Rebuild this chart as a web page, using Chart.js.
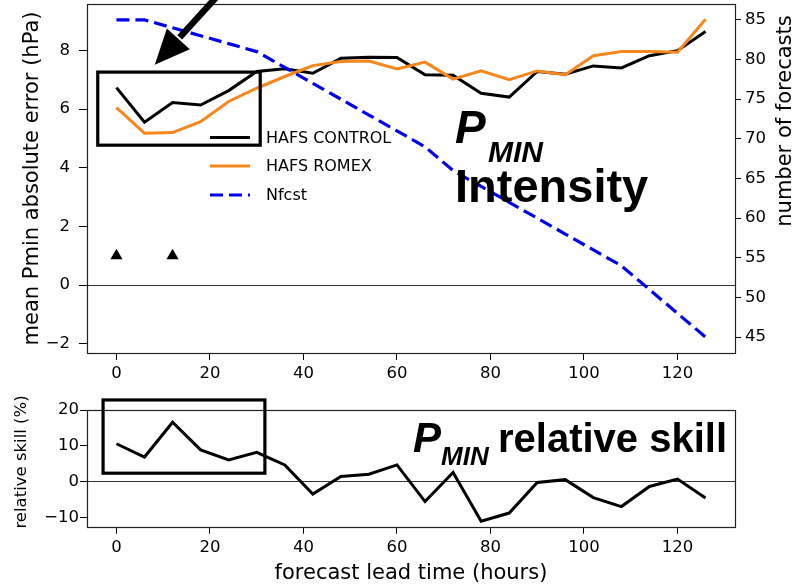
<!DOCTYPE html>
<html>
<head>
<meta charset="utf-8">
<script src="https://cdn.jsdelivr.net/npm/chart.js@4.4.1/dist/chart.umd.min.js"></script>
<style>
  html, body { margin: 0; padding: 0; background: #fff; }
  #wrap { position: relative; width: 796px; height: 587px; overflow: hidden; background: #fff; }
  canvas { position: absolute; left: 0; }
  #topPanel { top: 0; }
  #skillPanel { top: 385px; }
</style>
</head>
<body>
<div id="wrap">
  <canvas id="topPanel" width="796" height="385"></canvas>
  <canvas id="skillPanel" width="796" height="202"></canvas>
</div>
<script>
// Forecast lead times (hours)
const leadHours = [0, 6, 12, 18, 24, 30, 36, 42, 48, 54, 60, 66, 72, 78, 84, 90, 96, 102, 108, 114, 120, 126];

// Mean Pmin absolute error (hPa)
const hafsControl = [6.73, 5.55, 6.22, 6.14, 6.63, 7.28, 7.37, 7.22, 7.73, 7.77, 7.76, 7.17, 7.15, 6.54, 6.41, 7.28, 7.19, 7.47, 7.40, 7.82, 7.99, 8.64];
const hafsRomex   = [6.05, 5.18, 5.20, 5.57, 6.26, 6.71, 7.11, 7.48, 7.62, 7.64, 7.37, 7.60, 7.02, 7.30, 7.00, 7.30, 7.17, 7.82, 7.96, 7.96, 7.94, 9.06];

// Number of forecasts verified at each lead time
const nfcst = [85, 85, 84, 83, 82, 81, 79, 77, 75, 73, 71, 69, 66, 64, 62, 60, 58, 56, 54, 51, 48, 45];

// Lead times with a significant difference, marked at a fixed level
const sigHours = [0, 12];
const sigLevel = [1, 1];

// Relative skill of HAFS ROMEX over HAFS CONTROL (%)
const relSkill = [10.6, 6.9, 16.6, 8.9, 6.1, 8.2, 4.7, -3.4, 1.5, 2.1, 4.7, -5.5, 2.6, -11.0, -8.7, -0.2, 0.6, -4.4, -6.9, -1.3, 0.75, -4.5];

// Tick values
const hourTicks  = [0, 20, 40, 60, 80, 100, 120];
const errorTicks = [-2, 0, 2, 4, 6, 8];
const countTicks = [45, 50, 55, 60, 65, 70, 75, 80, 85];
const skillTicks = [-10, 0, 10, 20];

const seriesNames = ['HAFS CONTROL', 'HAFS ROMEX', 'Nfcst'];

const pts = (xs, ys) => xs.map((x, i) => ({ x: x, y: ys[i] }));
const fmt = v => (v < 0 ? '\u2212' + Math.abs(v) : String(v));
const fixTicks = vals => scale => { scale.ticks = vals.map(v => ({ value: v })); };

const tickFont = { family: 'DejaVu Sans', size: 16.5 };
const INK = '#000';
const ORANGE = '#f7871c';
const BLUE = '#0000f0';

// fixed axis thickness, no automatic label padding
const fixWidth = w => s => { s.width = w; s.paddingTop = 0; s.paddingBottom = 0; };
const fixHeight = h => s => { s.height = h; s.paddingLeft = 0; s.paddingRight = 0; };

function axisCommon(vals, tl, pad) {
  return {
    afterBuildTicks: fixTicks(vals),
    ticks: { font: tickFont, color: INK, padding: pad, autoSkip: false, maxRotation: 0, callback: v => fmt(v) },
    border: { display: false },
    grid: { drawOnChartArea: false, drawTicks: true, tickLength: tl, tickColor: INK, tickWidth: 1 }
  };
}

// Full rectangular frame around the plotting area
const framePlugin = {
  id: 'frame',
  afterDatasetsDraw(chart) {
    const a = chart.chartArea, ctx = chart.ctx;
    ctx.save();
    ctx.strokeStyle = '#222';
    ctx.lineWidth = 1.2;
    ctx.strokeRect(Math.round(a.left) + 0.5, Math.round(a.top) + 0.5,
                   Math.round(a.right - a.left), Math.round(a.bottom - a.top));
    ctx.restore();
  }
};

function drawBox(chart, yId, x0, x1, y0, y1) {
  const sx = chart.scales.x, sy = chart.scales[yId], ctx = chart.ctx;
  const l = sx.getPixelForValue(x0), r = sx.getPixelForValue(x1);
  const t = sy.getPixelForValue(y1), b = sy.getPixelForValue(y0);
  ctx.save();
  ctx.strokeStyle = INK;
  ctx.lineWidth = 3.2;
  ctx.strokeRect(l, t, r - l, b - t);
  ctx.restore();
}

function drawArrow(chart, yId, tail, tip) {
  const sx = chart.scales.x, sy = chart.scales[yId], ctx = chart.ctx;
  const tx = sx.getPixelForValue(tip[0]), ty = sy.getPixelForValue(tip[1]);
  const qx = sx.getPixelForValue(tail[0]), qy = sy.getPixelForValue(tail[1]);
  const len = Math.hypot(qx - tx, qy - ty);
  const ux = (qx - tx) / len, uy = (qy - ty) / len;
  const nx = -uy, ny = ux;
  const headLen = 35, headHalf = 15.5;
  const bx = tx + ux * headLen, by = ty + uy * headLen;
  ctx.save();
  ctx.strokeStyle = INK;
  ctx.fillStyle = INK;
  ctx.lineWidth = 6.5;
  ctx.beginPath();
  ctx.moveTo(qx, qy);
  ctx.lineTo(bx + ux * 2, by + uy * 2);
  ctx.stroke();
  ctx.beginPath();
  ctx.moveTo(tx, ty);
  ctx.lineTo(bx + nx * headHalf, by + ny * headHalf);
  ctx.lineTo(bx - nx * headHalf, by - ny * headHalf);
  ctx.closePath();
  ctx.fill();
  ctx.restore();
}

function vText(ctx, text, x, y, font) {
  ctx.save();
  ctx.translate(x, y);
  ctx.rotate(-Math.PI / 2);
  ctx.font = font;
  ctx.fillStyle = INK;
  ctx.textAlign = 'center';
  ctx.textBaseline = 'middle';
  ctx.fillText(text, 0, 0);
  ctx.restore();
}

function hText(ctx, text, x, y, font) {
  ctx.font = font;
  ctx.fillStyle = INK;
  ctx.textAlign = 'left';
  ctx.textBaseline = 'alphabetic';
  ctx.fillText(text, x, y);
}

const BIG = "'Liberation Sans', Arial, Helvetica, sans-serif";

const topDecor = {
  id: 'topDecor',
  afterDraw(chart) {
    const ctx = chart.ctx;
    // highlighted early lead times and pointer
    drawBox(chart, 'y', -4, 30.75, 4.77, 7.26);
    drawArrow(chart, 'y', [23.0, 10.1], [8.2, 7.51]);

    // legend (no frame)
    const rows = [137.5, 166, 195];
    ctx.save();
    chart.data.datasets.slice(0, 3).forEach((ds, i) => {
      ctx.beginPath();
      ctx.strokeStyle = ds.borderColor;
      ctx.lineWidth = ds.borderWidth;
      ctx.setLineDash(ds.borderDash || []);
      ctx.moveTo(210, rows[i]);
      ctx.lineTo(250, rows[i]);
      ctx.stroke();
      ctx.setLineDash([]);
      ctx.font = "16px 'DejaVu Sans'";
      ctx.fillStyle = INK;
      ctx.textAlign = 'left';
      ctx.textBaseline = 'middle';
      ctx.fillText(ds.label, 266, rows[i] + 1);
    });
    ctx.restore();

    // panel title
    ctx.save();
    hText(ctx, 'P', 455, 143, `italic bold 46px ${BIG}`);
    hText(ctx, 'MIN', 488, 162, `italic bold 30px ${BIG}`);
    hText(ctx, 'Intensity', 455, 202, `bold 47px ${BIG}`);
    ctx.restore();

    // axis titles
    vText(ctx, 'mean Pmin absolute error (hPa)', 33, 178.5, "21px 'DejaVu Sans'");
    vText(ctx, 'number of forecasts', 786, 121, "21px 'DejaVu Sans'");
  }
};

const skillDecor = {
  id: 'skillDecor',
  afterDraw(chart) {
    const ctx = chart.ctx;
    drawBox(chart, 'y', -2.86, 31.75, 2.4, 22.8);
    ctx.save();
    hText(ctx, 'P', 413, 67, `italic bold 42px ${BIG}`);
    hText(ctx, 'MIN', 441, 80, `italic bold 26px ${BIG}`);
    hText(ctx, 'relative skill', 498, 67, `bold 40px ${BIG}`);
    ctx.restore();
    vText(ctx, 'relative skill (%)', 22, 77, "16.5px 'DejaVu Sans'");
    ctx.save();
    ctx.font = "21px 'DejaVu Sans'";
    ctx.fillStyle = INK;
    ctx.textAlign = 'center';
    ctx.textBaseline = 'middle';
    ctx.fillText('forecast lead time (hours)', 411, 189);
    ctx.restore();
  }
};

const zeroGrid = ctx => (ctx.tick && ctx.tick.value === 0 ? '#333' : 'rgba(0,0,0,0)');

// ---- upper panel: errors and number of forecasts ----
const topX = axisCommon(hourTicks, 7, 4);
Object.assign(topX, { type: 'linear', min: -6.3, max: 132.3, afterFit: fixHeight(32) });

const topY = axisCommon(errorTicks, 8, 9);
Object.assign(topY, { type: 'linear', position: 'left', min: -2.31, max: 9.58, afterFit: fixWidth(87) });
topY.grid = { drawOnChartArea: true, color: zeroGrid, lineWidth: 1, drawTicks: true, tickLength: 8, tickColor: INK, tickWidth: 1 };

const topY2 = axisCommon(countTicks, 6, 4);
Object.assign(topY2, { type: 'linear', position: 'right', min: 43, max: 87, afterFit: fixWidth(61) });

new Chart(document.getElementById('topPanel'), {
  type: 'line',
  data: {
    datasets: [
      { label: seriesNames[0], data: pts(leadHours, hafsControl), yAxisID: 'y', borderColor: INK, borderWidth: 3, pointRadius: 0, tension: 0, order: 3 },
      { label: seriesNames[1], data: pts(leadHours, hafsRomex), yAxisID: 'y', borderColor: ORANGE, borderWidth: 3, pointRadius: 0, tension: 0, order: 2 },
      { label: seriesNames[2], data: pts(leadHours, nfcst), yAxisID: 'y2', borderColor: BLUE, borderWidth: 3.2, borderDash: [13, 6], pointRadius: 0, tension: 0, order: 1 },
      { label: 'significant', type: 'scatter', data: pts(sigHours, sigLevel), yAxisID: 'y', showLine: false,
        pointStyle: 'triangle', pointRadius: 7, backgroundColor: INK, borderColor: INK, borderWidth: 0, order: 0 }
    ]
  },
  options: {
    responsive: false,
    animation: false,
    events: [],
    layout: { padding: { top: 4, left: 0, right: 0, bottom: 0 }, autoPadding: false },
    plugins: { legend: { display: false }, tooltip: { enabled: false } },
    scales: { x: topX, y: topY, y2: topY2 }
  },
  plugins: [framePlugin, topDecor]
});

// ---- lower panel: relative skill ----
const botX = axisCommon(hourTicks, 7, 4);
Object.assign(botX, { type: 'linear', min: -6.3, max: 132.3, afterFit: fixHeight(60.3) });

const botY = axisCommon(skillTicks, 7, 1);
Object.assign(botY, { type: 'linear', position: 'left', min: -12.5, max: 20, afterFit: fixWidth(87) });
botY.grid = { drawOnChartArea: true, color: zeroGrid, lineWidth: 1, drawTicks: true, tickLength: 7, tickColor: INK, tickWidth: 1 };

new Chart(document.getElementById('skillPanel'), {
  type: 'line',
  data: {
    datasets: [
      { label: 'relative skill', data: pts(leadHours, relSkill), borderColor: INK, borderWidth: 3, pointRadius: 0, tension: 0 }
    ]
  },
  options: {
    responsive: false,
    animation: false,
    events: [],
    layout: { padding: { top: 25, left: 0, right: 61, bottom: 0 }, autoPadding: false },
    plugins: { legend: { display: false }, tooltip: { enabled: false } },
    scales: { x: botX, y: botY }
  },
  plugins: [framePlugin, skillDecor]
});
</script>
</body>
</html>
